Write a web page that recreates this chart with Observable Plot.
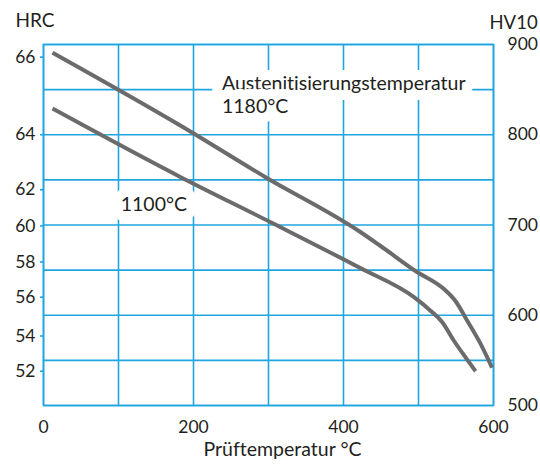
<!DOCTYPE html>
<html>
<head>
<meta charset="utf-8">
<script src="https://cdn.jsdelivr.net/npm/d3@7"></script>
<script src="https://cdn.jsdelivr.net/npm/@observablehq/plot@0.6"></script>
<style>
  html, body { margin: 0; padding: 0; background: #fff; }
  #chart svg { display: block; }
  #chart svg text { font-variant-ligatures: none; }
</style>
</head>
<body>
<div id="chart"></div>
<script>
// Test temperature (°C) and hardness (HV10)
const temp1180 = [12, 183, 296, 423, 449, 496, 534, 549, 565, 583, 598];
const hv1180   = [891, 810, 753, 692, 677, 649, 629, 616, 594, 568, 542];
const temp1100 = [12, 183, 303, 423, 494, 516, 532, 547, 563, 576];
const hv1100   = [829, 753, 703, 652, 620, 605, 592, 572, 553, 538];

// Axes
const xTicks = [0, 200, 400, 600];
const xGrid = [0, 100, 200, 300, 400, 500, 600];
const hvTicks = [500, 600, 700, 800, 900];
const hvGrid = [500, 550, 600, 650, 700, 750, 800, 850, 900];
const hrcLabels = ["66", "64", "62", "60", "58", "56", "54", "52"];
const hrcAsHV   = [886, 800, 739, 699, 659, 620, 577, 538];

// Annotations
const annoText = ["Austenitisierungstemperatur\n1180°C", "1100°C"];
const annoTemp = [238, 103];
const annoHV   = [868, 734];

const blue = "#1fa6e0";
const gray = "#6b6b6b";
const ink = "#231f20";
const font = "Lato, 'Open Sans', sans-serif";

const line1180 = temp1180.map((t, i) => ({t, hv: hv1180[i]}));
const line1100 = temp1100.map((t, i) => ({t, hv: hv1100[i]}));
const annos = annoText.map((s, i) => ({s, t: annoTemp[i], hv: annoHV[i]}));
const hrcMap = new Map(hrcAsHV.map((v, i) => [v, hrcLabels[i]]));

const chart = Plot.plot({
  width: 540,
  height: 470,
  marginTop: 44,
  marginBottom: 65,
  marginLeft: 43,
  marginRight: 47,
  style: {fontFamily: font, fontSize: "17px", color: ink, background: "#fff"},
  x: {domain: [0, 600], axis: null},
  y: {domain: [500, 900], axis: null},
  marks: [
    Plot.gridY(hvGrid, {stroke: blue, strokeOpacity: 1, strokeWidth: 1.6}),
    Plot.gridX(xGrid, {stroke: blue, strokeOpacity: 1, strokeWidth: 1.6}),
    Plot.frame({stroke: blue, strokeWidth: 1.6}),
    Plot.axisY(hrcAsHV, {anchor: "left", tickSize: 3, tickPadding: 5, stroke: blue,
      strokeWidth: 1.6, fill: ink, fontSize: 17.5, label: null, tickFormat: d => hrcMap.get(d)}),
    Plot.axisY(hvTicks, {anchor: "right", tickSize: 0, tickPadding: 14, fill: ink,
      fontSize: 17.5, label: null, tickFormat: d => String(d)}),
    Plot.axisX(xTicks, {anchor: "bottom", tickSize: 0, tickPadding: 15, fill: ink,
      fontSize: 17.5, label: null, tickFormat: d => String(d)}),
    Plot.text(annos, {x: "t", y: "hv", text: "s", textAnchor: "start", lineAnchor: "top",
      lineHeight: 1.2, fontSize: 19.5, fill: ink, stroke: "white", strokeWidth: 20}),
    Plot.line(line1180, {x: "t", y: "hv", stroke: gray, strokeWidth: 4, curve: "monotone-x",
      strokeLinecap: "butt"}),
    Plot.line(line1100, {x: "t", y: "hv", stroke: gray, strokeWidth: 4, curve: "monotone-x",
      strokeLinecap: "butt"}),
    Plot.text(["HRC"], {frameAnchor: "top-left", textAnchor: "start", dx: -28, dy: -31,
      fontSize: 19, fill: ink}),
    Plot.text(["HV10"], {frameAnchor: "top-right", textAnchor: "start", dx: -4, dy: -29,
      fontSize: 18.5, fill: ink}),
    Plot.text(["Prüftemperatur °C"], {frameAnchor: "bottom", dx: 14, dy: 50,
      fontSize: 19.5, fill: ink})
  ]
});
document.getElementById("chart").appendChild(chart);
</script>
</body>
</html>
